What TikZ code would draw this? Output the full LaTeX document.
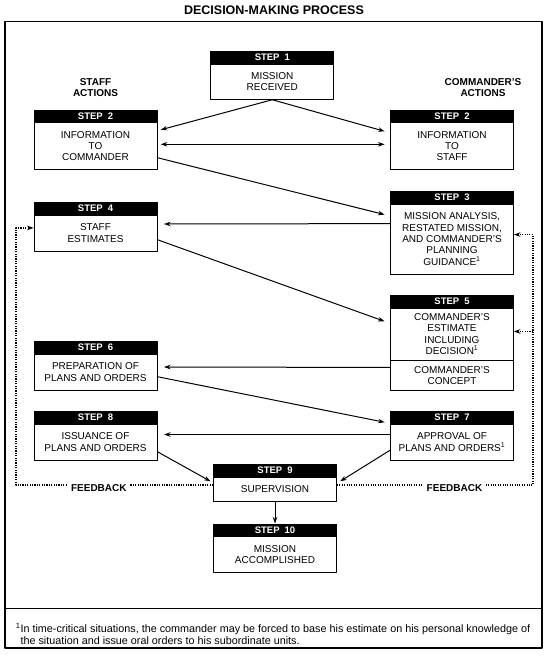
\documentclass[tikz,border=0pt]{standalone}
\usepackage{fontspec}
\setmainfont{Liberation Sans}
\usetikzlibrary{arrows.meta}
\tikzset{
  body/.style={draw, line width=0.8pt, minimum width=123pt, inner sep=1pt, align=center, font=\fontsize{10}{11.3}\selectfont},
  head/.style={draw, fill=black, text=white, line width=0.8pt, minimum width=123pt, minimum height=12pt, inner sep=0pt, anchor=south, font=\fontsize{9.5}{10}\selectfont\bfseries},
  lbl/.style={align=center, font=\fontsize{10}{11.6}\selectfont\bfseries},
  fb/.style={line width=1.3pt, dash pattern=on 1.1pt off 1.3pt},
}
\newcommand{\supone}{\textsuperscript{1}}
\begin{document}
\begin{tikzpicture}[x=1pt, y=-1pt, line width=1pt, line join=round, >={Stealth[length=6.5pt,width=4.5pt]}]
\useasboundingbox (0,0) rectangle (550,665);
\node[font=\fontsize{12.5}{14}\selectfont\bfseries] (title) at (274,10.5) {DECISION-MAKING PROCESS};
\draw[line width=1.2pt] (5,21.7) rectangle (542,648);
\draw[line width=0.9pt] (5,608) -- (542,608);
\node[lbl] (staff) at (95.5,87.5) {STAFF\\ACTIONS};
\node[lbl] (cmdr) at (483,87.5) {COMMANDER'S\\ACTIONS};
% steps
\node[body, minimum height=35.3pt] (s1) at (272.3,81.7) {MISSION\\RECEIVED};
\node[body, minimum height=46.6pt] (s2l) at (95.5,146) {INFORMATION\\TO\\COMMANDER};
\node[body, minimum height=46.6pt] (s2r) at (452,146) {INFORMATION\\TO\\STAFF};
\node[body, minimum height=70pt] (s3) at (452,239) {MISSION ANALYSIS,\\RESTATED MISSION,\\AND COMMANDER'S\\PLANNING\\GUIDANCE\supone};
\node[body, minimum height=36pt] (s4) at (95.5,233) {STAFF\\ESTIMATES};
\node[body, minimum height=51.7pt] (s5) at (452,334.2) {COMMANDER'S\\ESTIMATE\\INCLUDING\\DECISION\supone};
\node[body, minimum height=29.3pt, anchor=north] (s5c) at (s5.south) {COMMANDER'S\\CONCEPT};
\node[body, minimum height=36pt] (s6) at (95.5,372) {PREPARATION OF\\PLANS AND ORDERS};
\node[body, minimum height=35.5pt] (s7) at (452,442.2) {APPROVAL OF\\PLANS AND ORDERS\supone};
\node[body, minimum height=35.5pt] (s8) at (95.5,442.2) {ISSUANCE OF\\PLANS AND ORDERS};
\node[body, minimum height=24.4pt] (s9) at (275,489.5) {SUPERVISION};
\node[body, minimum height=36pt] (s10) at (275,554.7) {MISSION\\ACCOMPLISHED};
\foreach \n/\s in {s1/1, s2l/2, s2r/2, s3/3, s4/4, s5/5, s6/6, s7/7, s8/8, s9/9, s10/10}
  \node[head] (\n-h) at (\n.north) {STEP\hspace{5pt}\s};
% arrows
\draw[->] (s1.south) -- ([xshift=3.3pt,yshift=-7.5pt]s2l.north east);
\draw[->] (s1.south) -- ([xshift=-5.5pt,yshift=-9pt]s2r.north west);
\draw[<->] ([xshift=3.3pt,yshift=1.7pt]s2l.east) -- ([xshift=-5.5pt,yshift=1.7pt]s2r.west);
\draw[->] ([yshift=12pt]s2l.south east) -- ([xshift=-5.5pt,yshift=-11pt]s3.north west);
\draw[->] ([yshift=-20pt]s3.north west) -- ([xshift=6.6pt,yshift=9pt]s4.east);
\draw[->] ([yshift=11.7pt]s4.south east) -- ([xshift=-5.5pt,yshift=-13.4pt]s5.north west);
\draw[->] ([yshift=-7pt]s5c.north west) -- ([xshift=6.6pt,yshift=5pt]s6.east);
\draw[->] ([yshift=-4.7pt]s6.east) -- ([xshift=-5.5pt,yshift=1.8pt]s7.north west);
\draw[->] ([yshift=7.7pt]s7.west) -- ([xshift=6.6pt,yshift=7.7pt]s8.east);
\draw[->] ([yshift=-8pt]s7.west) -- ([xshift=3.3pt,yshift=-4.4pt]s9.north east);
\draw[->] ([yshift=-9.5pt]s8.east) -- ([xshift=-2.6pt,yshift=-4.4pt]s9.north west);
\draw[->] (s9.south) -- (s10-h.north);
% feedback
\draw[fb,->] ([yshift=-8pt]s9.north west) -| node[pos=0.29, lbl, fill=white, yshift=-3pt] (fbl) {FEEDBACK} ([xshift=-17.5pt,yshift=-13.3pt]s4.north west) -- ([yshift=-13.3pt]s4.north west);
\draw[fb,->] ([yshift=-8pt]s9.north east) -| node[pos=0.3, lbl, fill=white, yshift=-3pt] (fbr) {FEEDBACK} ([xshift=19pt,yshift=-31pt]s3.north east) -- ([yshift=-31pt]s3.north east);
\draw[fb,->] ([xshift=19pt,yshift=-23.5pt]s5.north east) -- ([yshift=-23.5pt]s5.north east);
% footnote
\node[anchor=west, align=left, font=\fontsize{10.8}{12.5}\selectfont] (note) at (12,634) {\supone In time-critical situations, the commander may be forced to base his estimate on his personal knowledge of\\\hphantom{\supone}the situation and issue oral orders to his subordinate units.};
\end{tikzpicture}
\end{document}
